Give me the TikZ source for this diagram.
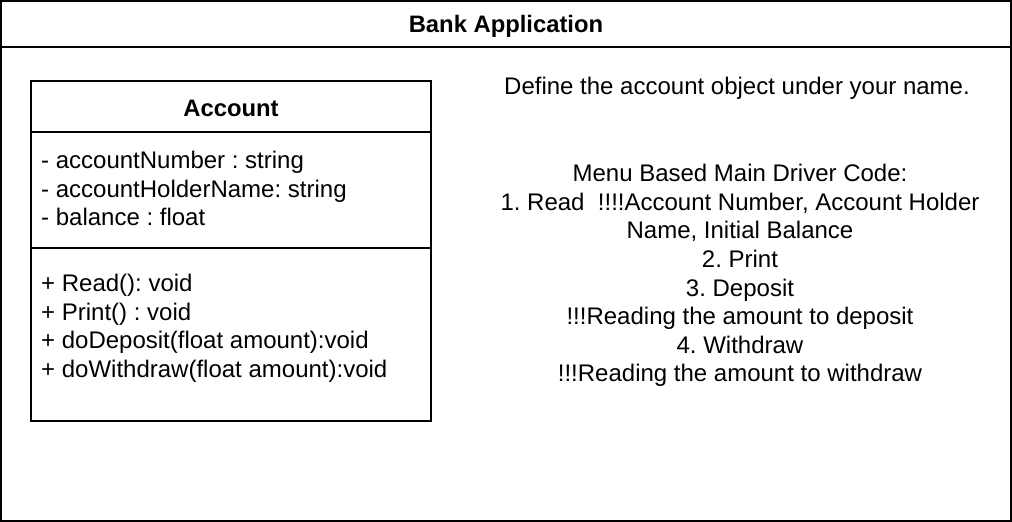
\documentclass[tikz,border=0pt]{standalone}
\usepackage{fontspec}
\setmainfont{Liberation Sans}
\usetikzlibrary{positioning}
\tikzset{
  frame/.style={line width=1.5pt},
  heading/.style={font=\bfseries\fontsize{23.8}{28}\selectfont},
  body/.style={font=\frenchspacing\fontsize{24}{28.6}\selectfont, inner sep=0pt},
}
\begin{document}
\begin{tikzpicture}[x=1pt,y=1pt]
   \useasboundingbox (0,0) rectangle (1012,-522);
   % outer container
   \draw[frame] (1,-1) rectangle (1011,-521);
   \draw[frame] (1,-47) -- (1011,-47);
   \node[heading] (title) at (506,-26) {Bank Application};
   % the Account class
   \draw[frame] (31,-81) rectangle (431,-421);
   \draw[frame] (31,-132) -- (431,-132);
   \draw[frame] (31,-248) -- (431,-248);
   \node[heading] (account) at (231,-108) {Account};
   \node[body, anchor=west, align=left] (attrs) at (41,-188.5)
      {- accountNumber : string\\- accountHolderName: string\\- balance : float};
   \node[body, anchor=north west, align=left] (ops) at (41,-274)
      {+ Read(): void\\+ Print() : void\\+ doDeposit(float amount):void\\+ doWithdraw(float amount):void};
   % notes on the right
   \node[body] (define) at (737,-88) {Define the account object under your name.};
   \node[body, align=center] (menu) at (740,-275.5)
      {Menu Based Main Driver Code:\\1. Read \ !!!!Account Number, Account Holder\\Name, Initial Balance\\2. Print\\3. Deposit\\!!!Reading the amount to deposit\\4. Withdraw\\!!!Reading the amount to withdraw};
\end{tikzpicture}
\end{document}
